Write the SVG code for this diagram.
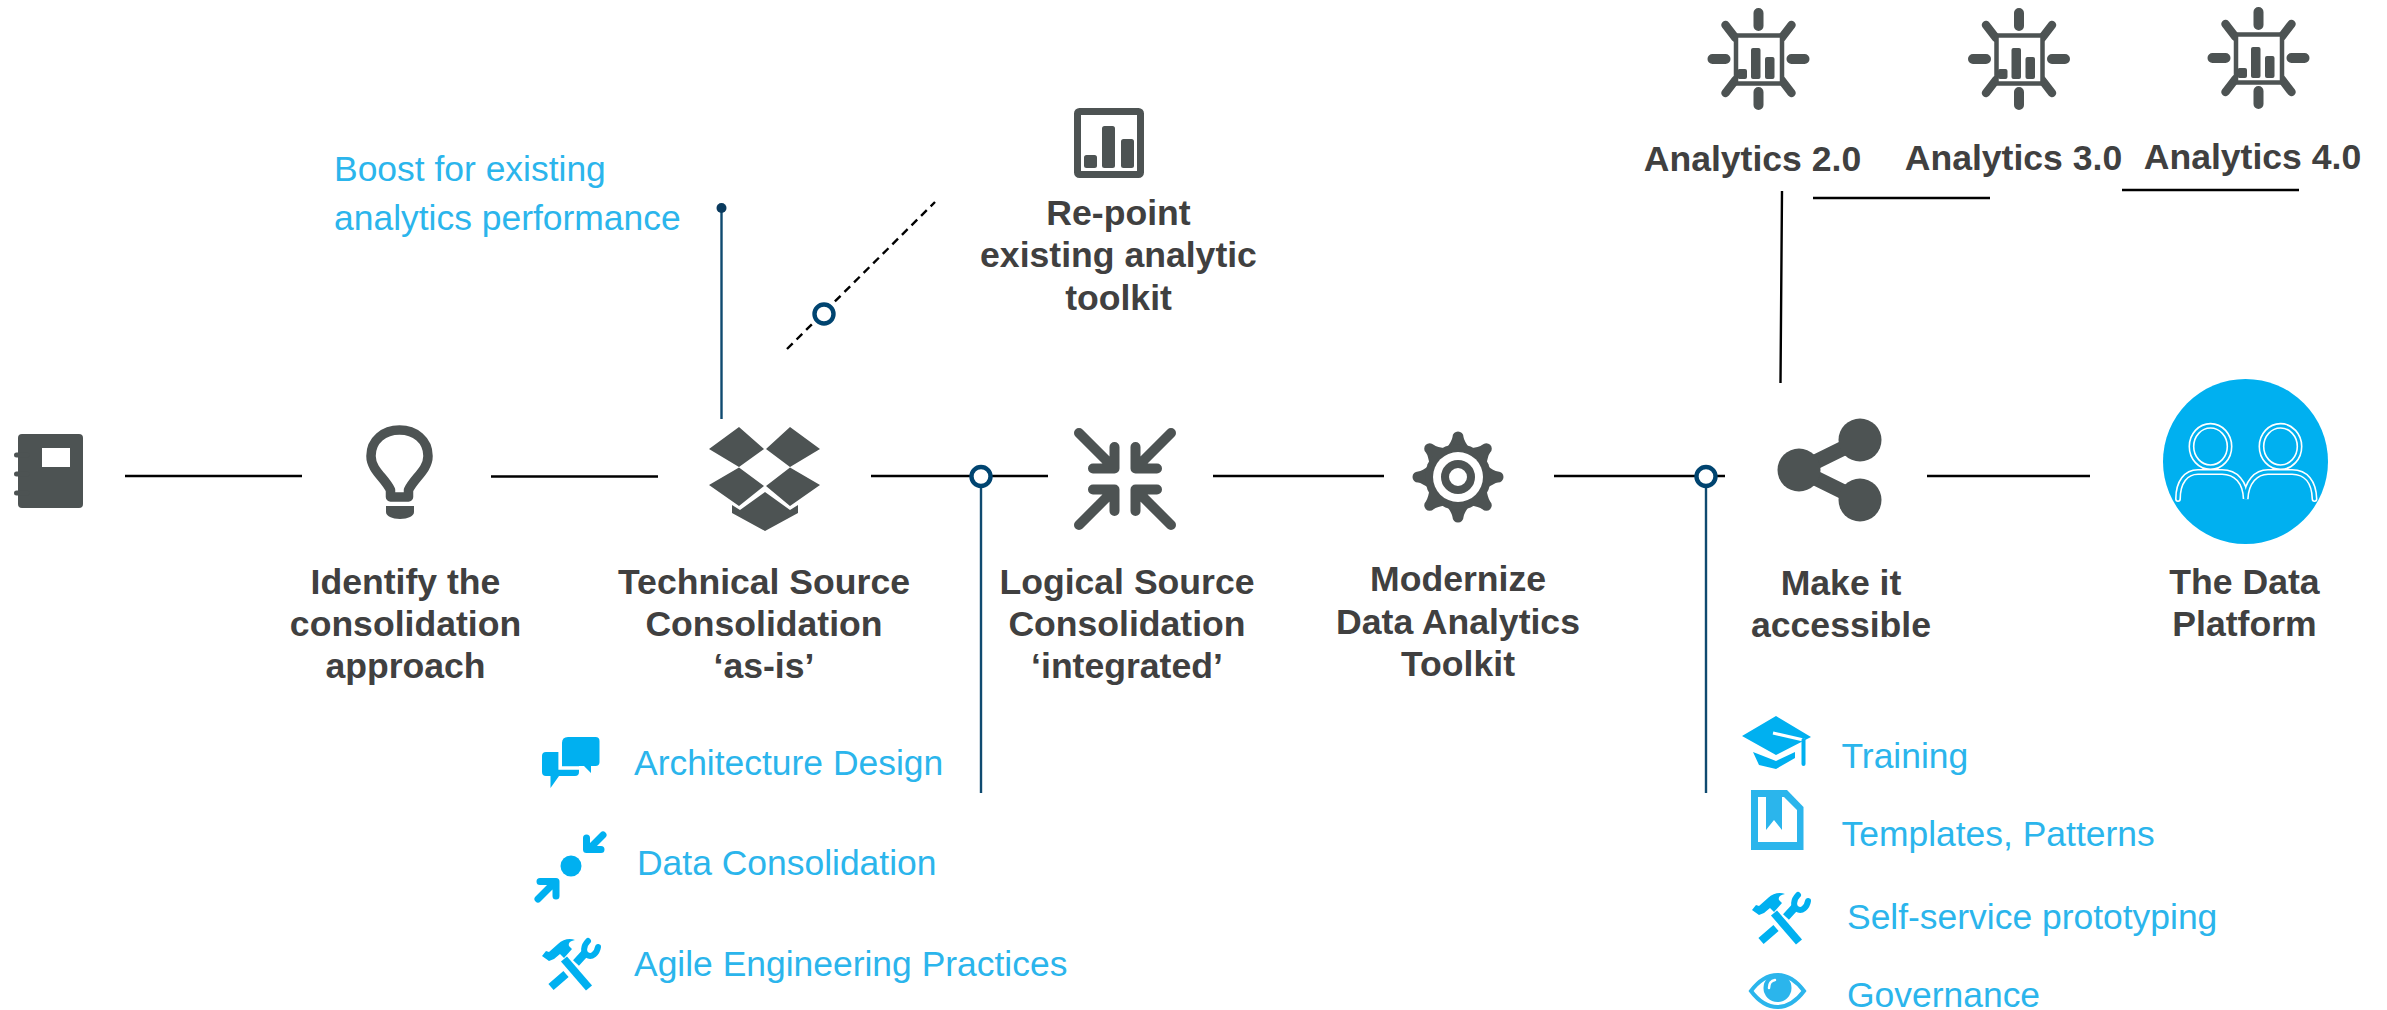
<svg xmlns="http://www.w3.org/2000/svg" width="2387" height="1010" viewBox="0 0 2387 1010">
<style>
text{font-family:"Liberation Sans",Arial,sans-serif;font-size:35.45px}
.h{font-weight:bold;fill:#404040;text-anchor:middle;font-size:35.6px}
.b{fill:#2bb5ec}
.d{fill:#4d5353}
.line{stroke:#000;stroke-width:2.4;fill:none}
.navy{stroke:#0f4a70;stroke-width:2.4;fill:none}
.ring{fill:#fff;stroke:#004470;stroke-width:4.4}
.sky{fill:#00b0f0}
</style>
<defs>
<g id="sun">
<g fill="none" stroke="#4d5353" stroke-width="10" stroke-linecap="round">
<path d="M0 -46V-33M0 33V46M-46 0H-33M33 0H46"/>
<path stroke-width="8.500" d="M-33 -34L-23 -21M33 -34L23 -21M-33 34L-23 21M33 34L23 21"/>
</g>
<rect x="-22.500" y="-23.500" width="46" height="48" fill="#fff" stroke="#4d5353" stroke-width="4.500"/>
<rect x="-21" y="10" width="9.500" height="10" rx="2" class="d"/>
<rect x="-7.500" y="-11" width="9.500" height="31" rx="2" class="d"/>
<rect x="6.500" y="-2" width="9.500" height="22" rx="2" class="d"/>
</g>
<path id="arrow" d="M-46 -46L-13 -13M-10.500 -32V-10.500H-32" fill="none" stroke="#4d5353" stroke-width="10" stroke-linecap="round" stroke-linejoin="round"/>
<path id="tooth" d="M-12 -28Q-6 -36 -5.500 -40A5.500 5.500 0 0 1 5.500 -40Q6 -36 12 -28Z" class="d"/>
<g id="tools">
<path d="M22 21L47 50" fill="none" stroke="#00b0f0" stroke-width="8"/>
<path d="M0 18L4 13L7 14L16 6C21 1 28 0 33 2C28 3 26 5 27 8L30 11L22 20L18 16L12 21L7 23Z" class="sky"/>
<path d="M9 49L24 36M34 25L44 14" fill="none" stroke="#00b0f0" stroke-width="8"/>
<path d="M46 3C41 8 41 15 45 17C50 20 55 15 56 9" fill="none" stroke="#00b0f0" stroke-width="6" stroke-linecap="round"/>
</g>
<g id="people">
<ellipse cx="2210.500" cy="446.500" rx="19" ry="20.700"/>
<ellipse cx="2280.500" cy="446.500" rx="19" ry="20.700"/>
<path d="M2178 499C2178 482 2186 472 2198 472H2222C2236 472 2245 482 2245.700 499C2246.500 482 2256 472 2268 472H2292C2306 472 2314 482 2314.500 499"/>
</g>
</defs>

<g id="connectors">
<path class="line" d="M125 476H302M491 476.500H658M871 476H1048M1213 476H1384M1554 476H1725M1927 476H2090M1813 198H1990M2122 190H2299M1782 191L1780.500 383"/>
<path class="line" d="M787 349L935 202" stroke-dasharray="8 5.500"/>
<path class="navy" d="M721.500 208V419M981 476V793M1706 476V793"/>
<circle cx="721.500" cy="208" r="5" fill="#0a3a5e"/>
<circle class="ring" cx="824" cy="314" r="9.500"/>
<circle class="ring" cx="981" cy="476.500" r="9.500"/>
<circle class="ring" cx="1706" cy="476.500" r="9.500"/>
</g>

<g id="node-notebook">
<rect x="18" y="434" width="65" height="74" rx="4" class="d"/>
<path d="M16.500 455H27M16.500 474H27M16.500 493H27" stroke="#4d5353" stroke-width="5" stroke-linecap="round"/>
<rect x="42" y="448" width="28" height="19" fill="#fff"/>
</g>

<g id="node-identify">
<path d="M390.500 497V490C385 478 371 470 371 456C371 440 384 430 399.500 430C415 430 428 440 428 456C428 470 414 478 408.500 490V497Z" fill="#fff" stroke="#4d5353" stroke-width="9.500" stroke-linejoin="round"/>
<path d="M386 506H414V512C414 516 408 519 400 519C392 519 386 516 386 512Z" class="d"/>
<text class="h" x="405.500" y="594">Identify the</text>
<text class="h" x="405.500" y="636">consolidation</text>
<text class="h" x="405.500" y="678">approach</text>
</g>

<g id="node-technical">
<path d="M739 427L764 449L739 467L709 449ZM790 427L820 449L790 467L766 449ZM739 467.500L764 486L739 506L709 485ZM790 467.500L820 485L790 506L766 486Z" class="d"/>
<path d="M765 492L790 510L798 505V513L765 531L732 513V505L740 510Z" class="d"/>
<text class="h" x="764" y="594">Technical Source</text>
<text class="h" x="764" y="636">Consolidation</text>
<text class="h" x="764" y="678">‘as-is’</text>
</g>

<g id="node-repoint">
<rect x="1077.500" y="111.500" width="63" height="63" rx="2" fill="#fff" stroke="#4d5353" stroke-width="7"/>
<rect x="1084" y="155" width="13" height="13" rx="2.500" class="d"/>
<rect x="1102" y="126" width="13" height="42" rx="2.500" class="d"/>
<rect x="1121" y="139" width="13" height="29" rx="2.500" class="d"/>
<text class="h" x="1118.500" y="225">Re-point</text>
<text class="h" x="1118.500" y="267">existing analytic</text>
<text class="h" x="1118.500" y="310">toolkit</text>
</g>

<g id="node-logical">
<use href="#arrow" transform="translate(1125 479)"/>
<use href="#arrow" transform="translate(1125 479) rotate(90)"/>
<use href="#arrow" transform="translate(1125 479) rotate(180)"/>
<use href="#arrow" transform="translate(1125 479) rotate(270)"/>
<text class="h" x="1127" y="594">Logical Source</text>
<text class="h" x="1127" y="636">Consolidation</text>
<text class="h" x="1127" y="678">‘integrated’</text>
</g>

<g id="node-modernize">
<g transform="translate(1458 477)">
<use href="#tooth"/><use href="#tooth" transform="rotate(45)"/><use href="#tooth" transform="rotate(90)"/><use href="#tooth" transform="rotate(135)"/><use href="#tooth" transform="rotate(180)"/><use href="#tooth" transform="rotate(225)"/><use href="#tooth" transform="rotate(270)"/><use href="#tooth" transform="rotate(315)"/>
<circle r="33" class="d"/>
<circle r="25" fill="#fff"/>
<circle r="13" fill="#fff" stroke="#4d5353" stroke-width="8"/>
</g>
<text class="h" x="1458" y="591">Modernize</text>
<text class="h" x="1458" y="634">Data Analytics</text>
<text class="h" x="1458" y="676">Toolkit</text>
</g>

<g id="node-share">
<path d="M1860 440L1799 470L1860 500" fill="none" stroke="#4d5353" stroke-width="15"/>
<circle cx="1860" cy="440" r="21.500" class="d"/>
<circle cx="1799" cy="470" r="21.500" class="d"/>
<circle cx="1860" cy="500" r="21.500" class="d"/>
<text class="h" x="1841" y="595">Make it</text>
<text class="h" x="1841" y="637">accessible</text>
</g>

<g id="node-platform">
<circle cx="2245.500" cy="461.500" r="82.500" class="sky"/>
<use href="#people" fill="none" stroke="#fff" stroke-width="6" stroke-linecap="round"/>
<use href="#people" fill="none" stroke="#00b0f0" stroke-width="2.800" stroke-linecap="round"/>
<text class="h" x="2244.500" y="594">The Data</text>
<text class="h" x="2244.500" y="636">Platform</text>
</g>

<g id="node-analytics-2">
<use href="#sun" transform="translate(1758.500 59)"/>
<text class="h" x="1752.500" y="171">Analytics 2.0</text>
</g>
<g id="node-analytics-3">
<use href="#sun" transform="translate(2019 59)"/>
<text class="h" x="2013.500" y="170">Analytics 3.0</text>
</g>
<g id="node-analytics-4">
<use href="#sun" transform="translate(2258.500 58)"/>
<text class="h" x="2252.500" y="168.500">Analytics 4.0</text>
</g>

<g id="note-boost">
<text class="b" x="334" y="181">Boost for existing</text>
<text class="b" x="334" y="230">analytics performance</text>
</g>

<g id="item-architecture">
<path d="M546 752H575Q579 752 579 756V772Q579 776 575 776H559L550.500 788V776H546Q542 776 542 772V756Q542 752 546 752Z" class="sky"/>
<path d="M568 737H595.500Q599.500 737 599.500 741V762Q599.500 766 595.500 766H591V773L584 766H562V743Q562 737 568 737Z" class="sky"/>
<path d="M560.200 752V768H583" fill="none" stroke="#fff" stroke-width="3.600"/>
<text class="b" x="634" y="775">Architecture Design</text>
</g>
<g id="item-data-consolidation">
<circle cx="571" cy="866" r="10.500" class="sky"/>
<path d="M603 835L589 849M586.500 838V849.500H601M538 899L553 884M540 881.500H556V896" fill="none" stroke="#00b0f0" stroke-width="7" stroke-linecap="round" stroke-linejoin="round"/>
<text class="b" x="637" y="875">Data Consolidation</text>
</g>
<g id="item-agile">
<use href="#tools" transform="translate(542 938)"/>
<text class="b" x="634" y="976">Agile Engineering Practices</text>
</g>

<g id="item-training">
<path d="M1742 736L1776 716L1811 737L1776 755ZM1753 752L1776 761L1795 752V758L1776 769L1759 765Z" class="sky"/>
<path d="M1773 733L1803.500 740V764" fill="none" stroke="#fff" stroke-width="3"/>
<path d="M1803.500 740V764" fill="none" stroke="#00b0f0" stroke-width="4" stroke-linecap="round"/>
<text class="b" x="1841.500" y="768">Training</text>
</g>
<g id="item-templates">
<path d="M1751 790H1787L1803.500 807V850H1751Z" fill="#2bb5ec"/>
<path d="M1758 797H1766V830L1774 820L1782 830V797H1784L1797 810V842H1758Z" fill="#fff"/>
<text class="b" x="1841.500" y="846">Templates, Patterns</text>
</g>
<g id="item-selfservice">
<use href="#tools" transform="translate(1752 892)"/>
<text class="b" x="1847" y="929">Self-service prototyping</text>
</g>
<g id="item-governance">
<path d="M1751 991C1760 979 1768 975 1777.500 975C1787 975 1795 979 1804 991C1795 1003 1787 1007 1777.500 1007C1768 1007 1760 1003 1751 991Z" fill="none" stroke="#2bb5ec" stroke-width="4"/>
<circle cx="1777.500" cy="988" r="14" fill="#2bb5ec"/>
<path d="M1769 988Q1769 981 1775 980" fill="none" stroke="#fff" stroke-width="2.500" stroke-linecap="round"/>
<text class="b" x="1847" y="1006.500">Governance</text>
</g>
</svg>
